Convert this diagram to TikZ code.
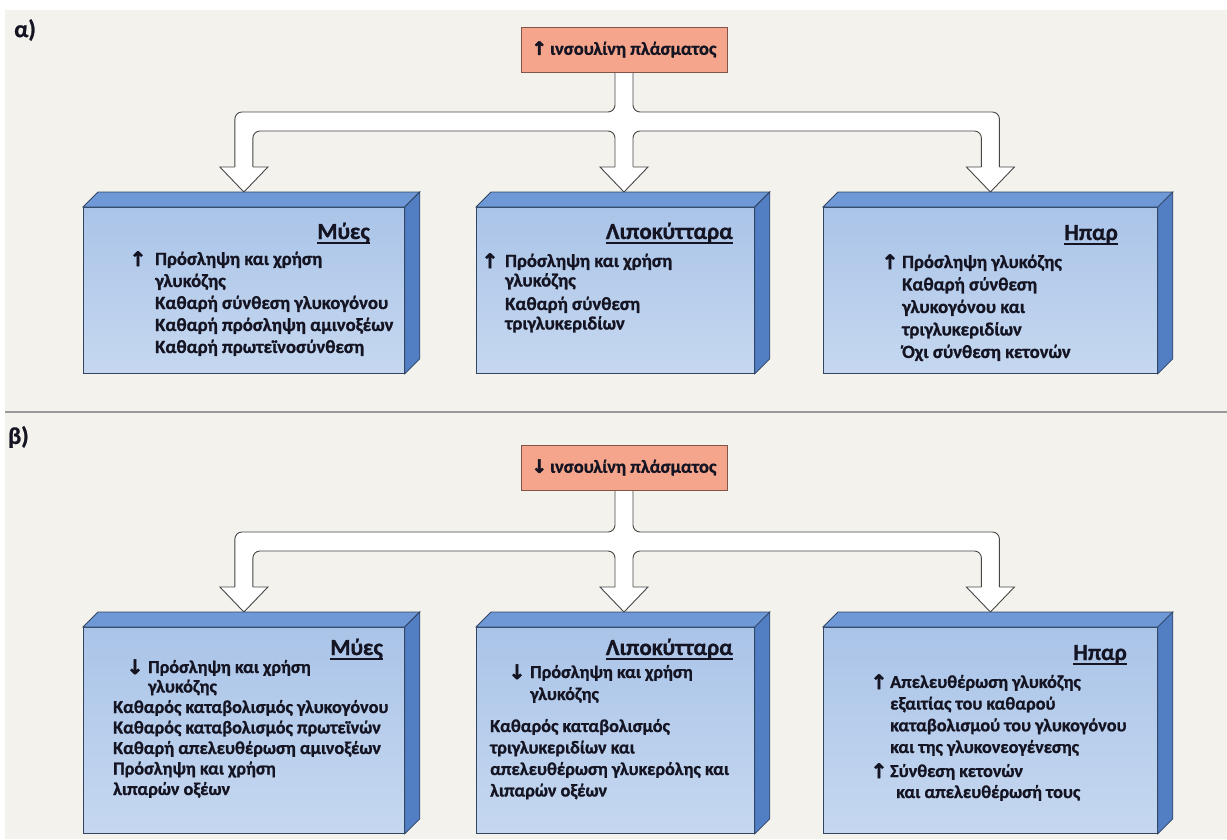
\documentclass[tikz,border=0pt]{standalone}
\usepackage{fontspec}
\setmainfont{Carlito}[BoldFeatures={FakeBold=1}]
\newfontfamily\arrowfont{DejaVu Sans}[BoldFeatures={FakeBold=2.5}]
\usetikzlibrary{calc,backgrounds}
\definecolor{paper}{RGB}{244,242,237}
\definecolor{boxtop}{RGB}{110,152,214}
\definecolor{boxside}{RGB}{82,126,196}
\definecolor{frontlight}{RGB}{198,216,240}
\definecolor{frontdark}{RGB}{170,196,232}
\definecolor{boxline}{RGB}{50,70,100}
\definecolor{salmon}{RGB}{245,165,140}
\definecolor{salmonline}{RGB}{130,85,75}
\definecolor{inkdark}{RGB}{20,20,35}
\definecolor{arrowline}{RGB}{70,70,70}

\begin{document}
\begin{tikzpicture}[x=1pt, y=-1pt,
    front/.style={draw=boxline, line width=0.8pt, top color=frontdark, bottom color=frontlight,
                  anchor=north west, inner sep=0pt, minimum height=166pt},
    topface/.style={draw=boxline, line width=0.8pt, fill=boxtop},
    sideface/.style={draw=boxline, line width=0.8pt, fill=boxside},
    ins/.style={draw=salmonline, line width=0.8pt, fill=salmon, minimum width=206pt, minimum height=45pt,
                inner sep=0pt, text=inkdark, font=\bfseries\fontsize{18.5}{22}\selectfont},
    head/.style={anchor=base east, inner sep=0pt, text=inkdark, font=\bfseries\fontsize{23}{26}\selectfont},
    rule/.style={draw=inkdark, line width=1.5pt},
    item/.style={anchor=base west, inner sep=0pt, align=left, text=inkdark, font=\bfseries\fontsize{18.7}{22}\selectfont},
    trend/.style={anchor=base, inner sep=0pt, text=inkdark, font=\arrowfont\bfseries\fontsize{20}{22}\selectfont},
    panel/.style={anchor=west, inner sep=0pt, text=inkdark, font=\bfseries\fontsize{24}{28}\selectfont},
    fatbody/.style={draw=arrowline, line width=0.9pt, fill=white, rounded corners=7pt},
    fathead/.style={draw=arrowline, line width=0.9pt, fill=white}]
    \useasboundingbox (0,0) rectangle (1227,839);
    \begin{scope}[on background layer]
        \fill[white] (0,0) rectangle (1227,839);
        \fill[paper] (5,10) rectangle (1227,839);
    \end{scope}
    \draw[line width=2pt, gray!80] (5,412) -- (1227,412);

    \node[panel] (alpha) at (14,30)  {α)};
    \node[panel] (beta)  at (8,437)  {β)};

    \node[ins] (insA) at (624,49.5)  {{\arrowfont↑}\,ινσουλίνη πλάσματος};
    \node[ins] (insB) at (624,467.5) {{\arrowfont↓}\,ινσουλίνη πλάσματος};

    \node[front, minimum width=321pt] (muesA) at (83,207)  {};
    \node[front, minimum width=278pt] (lipoA) at (476,207) {};
    \node[front, minimum width=334pt] (hparA) at (823,207) {};
    \node[front, minimum width=321pt, minimum height=206pt] (muesB) at (83,627)  {};
    \node[front, minimum width=278pt, minimum height=206pt] (lipoB) at (476,627) {};
    \node[front, minimum width=334pt, minimum height=206pt] (hparB) at (823,627) {};

    \foreach \b in {muesA,lipoA,hparA,muesB,lipoB,hparB}{
        \filldraw[topface] (\b.north west) -- ++(15pt,15pt) -- ([shift={(15pt,15pt)}]\b.north east) -- (\b.north east) -- cycle;
        \filldraw[sideface] (\b.north east) -- ++(15pt,15pt) -- ([shift={(15pt,15pt)}]\b.south east) -- (\b.south east) -- cycle;
    }

    \foreach \t/\l/\r in {insA/muesA/hparA, insB/muesB/hparB}{
        \begin{scope}[on background layer]
        \filldraw[fatbody] let \p0=(\t.south), \p1=([yshift=15pt]\l.north), \p3=([yshift=15pt]\r.north) in
            (\x0-9pt,\y0+10pt) -- (\x0-9pt,\y1+80pt) -- (\x1-9pt,\y1+80pt) -- (\x1-9pt,\y1+14pt)
            -- (\x1+9pt,\y1+14pt) -- (\x1+9pt,\y1+61pt) -- (\x0-9pt,\y1+61pt) -- (\x0-9pt,\y1+14pt)
            -- (\x0+9pt,\y1+14pt) -- (\x0+9pt,\y1+61pt) -- (\x3-9pt,\y1+61pt) -- (\x3-9pt,\y1+14pt)
            -- (\x3+9pt,\y1+14pt) -- (\x3+9pt,\y1+80pt) -- (\x0+9pt,\y1+80pt) -- (\x0+9pt,\y0+10pt) -- cycle;
        \filldraw[fathead] let \p0=(\t.south), \p1=([yshift=15pt]\l.north), \p3=([yshift=15pt]\r.north) in
            (\x1-9pt,\y1+25pt) -- (\x1-24pt,\y1+25pt) -- (\x1,\y1) -- (\x1+24pt,\y1+25pt) -- (\x1+9pt,\y1+25pt)
            (\x0-9pt,\y1+25pt) -- (\x0-24pt,\y1+25pt) -- (\x0,\y1) -- (\x0+24pt,\y1+25pt) -- (\x0+9pt,\y1+25pt)
            (\x3-9pt,\y1+25pt) -- (\x3-24pt,\y1+25pt) -- (\x3,\y1) -- (\x3+24pt,\y1+25pt) -- (\x3+9pt,\y1+25pt);
        \end{scope}
    }

    \node[head] (muesAh) at (370,239)  {Μύες};
    \node[head] (lipoAh) at (733,239)  {Λιποκύτταρα};
    \node[head] (hparAh) at (1118,240) {Ηπαρ};
    \node[head] (muesBh) at (383,655)  {Μύες};
    \node[head] (lipoBh) at (733,655)  {Λιποκύτταρα};
    \node[head] (hparBh) at (1127,660) {Ηπαρ};
    \foreach \h in {muesAh,lipoAh,hparAh,muesBh,lipoBh,hparBh}
        \draw[rule] ([yshift=-4pt]\h.base west) -- ([yshift=-4pt]\h.base east);

    \node[trend] (muesAu) at (138,266) {↑};
    \node[item]  (muesAt) at (155,353) {Πρόσληψη και χρήση\\γλυκόζης\\Καθαρή σύνθεση γλυκογόνου\\Καθαρή πρόσληψη αμινοξέων\\Καθαρή πρωτεϊνοσύνθεση};
    \node[trend] (lipoAu) at (490,268) {↑};
    \node[item, font=\bfseries\fontsize{18.7}{19.5}\selectfont] (lipoAt) at (505,286.5) {Πρόσληψη και χρήση\\γλυκόζης};
    \node[item, font=\bfseries\fontsize{18.7}{19.5}\selectfont] (lipoAs) at (505,329.5) {Καθαρή σύνθεση\\τριγλυκεριδίων};
    \node[trend] (hparAu) at (890,269) {↑};
    \node[item, font=\bfseries\fontsize{18.7}{22.5}\selectfont] (hparAt) at (902,358) {Πρόσληψη γλυκόζης\\Καθαρή σύνθεση\\γλυκογόνου και\\τριγλυκεριδίων\\Όχι σύνθεση κετονών};

    \node[trend] (muesBd) at (135,674) {↓};
    \node[item, font=\bfseries\fontsize{18.2}{19.5}\selectfont] (muesBt) at (148,692.5) {Πρόσληψη και χρήση\\γλυκόζης};
    \node[item, font=\bfseries\fontsize{18.2}{20.5}\selectfont] (muesBs) at (113,795) {Καθαρός καταβολισμός γλυκογόνου\\Καθαρός καταβολισμός πρωτεϊνών\\Καθαρή απελευθέρωση αμινοξέων\\Πρόσληψη και χρήση\\λιπαρών οξέων};
    \node[trend] (lipoBd) at (517,679) {↓};
    \node[item, font=\bfseries\fontsize{18.2}{22}\selectfont] (lipoBt) at (530,700) {Πρόσληψη και χρήση\\γλυκόζης};
    \node[item, font=\bfseries\fontsize{18.2}{21.5}\selectfont] (lipoBs) at (490,796.5) {Καθαρός καταβολισμός\\τριγλυκεριδίων και\\απελευθέρωση γλυκερόλης και\\λιπαρών οξέων};
    \node[trend] (hparBu) at (879,689) {↑};
    \node[item, font=\bfseries\fontsize{18.2}{21.7}\selectfont] (hparBt) at (890,753) {Απελευθέρωση γλυκόζης\\εξαιτίας του καθαρού\\καταβολισμού του γλυκογόνου\\και της γλυκονεογένεσης};
    \node[trend] (hparBv) at (879,778) {↑};
    \node[item, font=\bfseries\fontsize{18.2}{21}\selectfont] (hparBs) at (890,798) {Σύνθεση κετονών\\\hspace*{6pt}και απελευθέρωσή τους};
\end{tikzpicture}
\end{document}
